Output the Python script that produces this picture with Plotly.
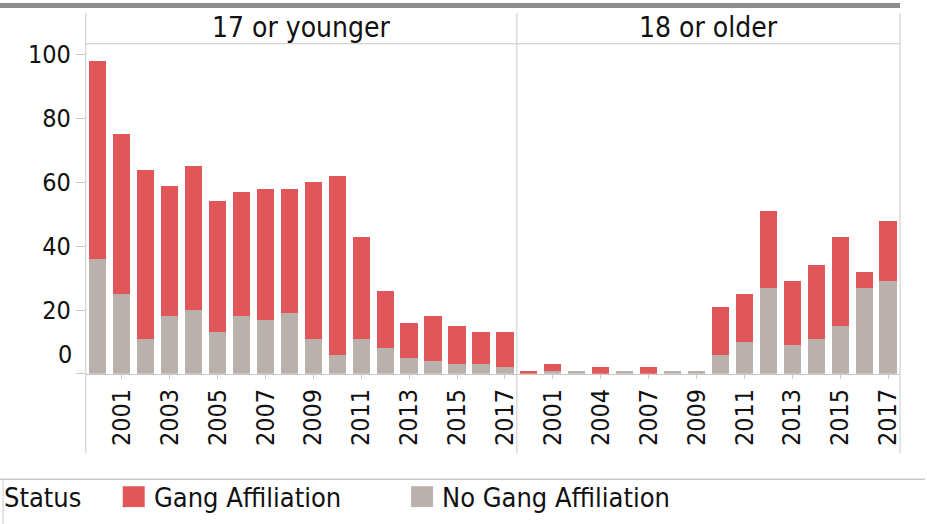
import plotly.graph_objects as go

# ---------------- data ----------------
years_young = [str(y) for y in range(2000, 2018)]
gang_young = [62, 50, 53, 41, 45, 41, 39, 41, 39, 49, 56, 32, 18, 11, 14, 12, 10, 11]
nogang_young = [36, 25, 11, 18, 20, 13, 18, 17, 19, 11, 6, 11, 8, 5, 4, 3, 3, 2]

years_old = ["2000", "2001", "2003", "2004", "2006", "2007", "2008", "2009",
             "2010", "2011", "2012", "2013", "2014", "2015", "2016", "2017"]
gang_old = [1, 2, 0, 2, 0, 2, 0, 0, 15, 15, 24, 20, 23, 28, 5, 19]
nogang_old = [0, 1, 1, 0, 1, 0, 1, 1, 6, 10, 27, 9, 11, 15, 27, 29]

ticks_young = ["2001", "2003", "2005", "2007", "2009", "2011", "2013", "2015", "2017"]
ticks_old = ["2001", "2004", "2007", "2009", "2011", "2013", "2015", "2017"]
y_ticks = [0, 20, 40, 60, 80, 100]

panel_titles = ["17 or younger", "18 or older"]
legend_title = "Status"
legend_labels = ["Gang Affiliation", "No Gang Affiliation"]

RED = "#e15759"
GRAY = "#bab0ac"
LINE = "#c8c8c8"
TXT = "#111111"
FONT = "DejaVu Sans Condensed, DejaVu Sans, sans-serif"

W, H = 927, 524
def px(x):
    return x / W
def py(y):
    return 1 - y / H

fig = go.Figure()

fig.add_trace(go.Bar(x=years_young, y=nogang_young, marker_color=GRAY, marker_line_width=0,
                     name=legend_labels[1], xaxis="x", yaxis="y", showlegend=False))
fig.add_trace(go.Bar(x=years_young, y=gang_young, marker_color=RED, marker_line_width=0,
                     name=legend_labels[0], xaxis="x", yaxis="y", showlegend=False))
fig.add_trace(go.Bar(x=years_old, y=nogang_old, marker_color=GRAY, marker_line_width=0,
                     name=legend_labels[1], xaxis="x2", yaxis="y", showlegend=False))
fig.add_trace(go.Bar(x=years_old, y=gang_old, marker_color=RED, marker_line_width=0,
                     name=legend_labels[0], xaxis="x2", yaxis="y", showlegend=False))

xcommon = dict(type="category", tickangle=-90, ticks="outside", ticklen=4,
               tickcolor=LINE, showline=True, linecolor=LINE, linewidth=1,
               showgrid=False, zeroline=False, anchor="y",
               tickfont=dict(family=FONT, size=25, color=TXT))

fig.update_layout(
    width=W, height=H,
    margin=dict(l=0, r=0, t=0, b=0),
    paper_bgcolor="white", plot_bgcolor="white",
    barmode="stack", bargap=0.28,
    showlegend=False,
    xaxis=dict(domain=[px(86), px(518)], categoryarray=years_young,
               categoryorder="array", range=[-0.5, len(years_young) - 0.5],
               tickvals=ticks_young, ticktext=ticks_young, **xcommon),
    xaxis2=dict(domain=[px(518), px(902)], categoryarray=years_old,
                categoryorder="array", range=[-0.5, len(years_old) - 0.5],
                tickvals=ticks_old, ticktext=ticks_old, **xcommon),
    yaxis=dict(domain=[py(373), py(41)], range=[0, 103.4],
               tickvals=y_ticks, ticktext=[""] + [str(v) for v in y_ticks[1:]],
               ticks="outside", ticklen=9, tickcolor=LINE,
               showline=False, showgrid=False, zeroline=False,
               tickfont=dict(family=FONT, size=25, color=TXT)),
)

shapes = []
# top dark band
shapes.append(dict(type="rect", xref="paper", yref="paper", x0=px(0), x1=px(902),
                   y0=py(5), y1=py(0), fillcolor="#8c8c8c", line_width=0, layer="above"))
# panel verticals
for xv in [86, 518, 902]:
    shapes.append(dict(type="line", xref="paper", yref="paper", x0=px(xv), x1=px(xv),
                       y0=py(10), y1=py(453), line=dict(color=LINE, width=1)))
# header bottom line
shapes.append(dict(type="line", xref="paper", yref="paper", x0=px(86), x1=px(902),
                   y0=py(41), y1=py(41), line=dict(color=LINE, width=1)))
# legend frame
shapes.append(dict(type="line", xref="paper", yref="paper", x0=px(0), x1=px(927),
                   y0=py(479), y1=py(479), line=dict(color=LINE, width=1.5)))
shapes.append(dict(type="line", xref="paper", yref="paper", x0=px(3), x1=px(3),
                   y0=py(479), y1=py(524), line=dict(color=LINE, width=1)))
# legend swatches
for (x0, col) in [(123, RED), (412, GRAY)]:
    shapes.append(dict(type="rect", xref="paper", yref="paper", x0=px(x0), x1=px(x0 + 22),
                       y0=py(507), y1=py(486), fillcolor=col, line_width=0))

annotations = []
annotations.append(dict(text=panel_titles[0], xref="paper", yref="paper", x=px(302), y=py(25),
                        showarrow=False, xanchor="center", yanchor="middle",
                        font=dict(family=FONT, size=28, color=TXT)))
annotations.append(dict(text=panel_titles[1], xref="paper", yref="paper", x=px(710), y=py(25),
                        showarrow=False, xanchor="center", yanchor="middle",
                        font=dict(family=FONT, size=28, color=TXT)))
# shifted zero label
annotations.append(dict(text="0", xref="paper", yref="y", x=px(74), y=0, yshift=3,
                        showarrow=False, xanchor="right", yanchor="bottom",
                        font=dict(family=FONT, size=25, color=TXT)))
# legend text
annotations.append(dict(text=legend_title, xref="paper", yref="paper", x=px(2), y=py(497),
                        showarrow=False, xanchor="left", yanchor="middle",
                        font=dict(family=FONT, size=27, color=TXT)))
annotations.append(dict(text=legend_labels[0], xref="paper", yref="paper", x=px(152), y=py(497),
                        showarrow=False, xanchor="left", yanchor="middle",
                        font=dict(family=FONT, size=27, color=TXT)))
annotations.append(dict(text=legend_labels[1], xref="paper", yref="paper", x=px(441), y=py(497),
                        showarrow=False, xanchor="left", yanchor="middle",
                        font=dict(family=FONT, size=27, color=TXT)))

fig.update_layout(shapes=shapes, annotations=annotations)

fig.write_html("out.html", config={"displayModeBar": False},
               post_script="document.body.style.margin='0';document.body.style.padding='0';")
